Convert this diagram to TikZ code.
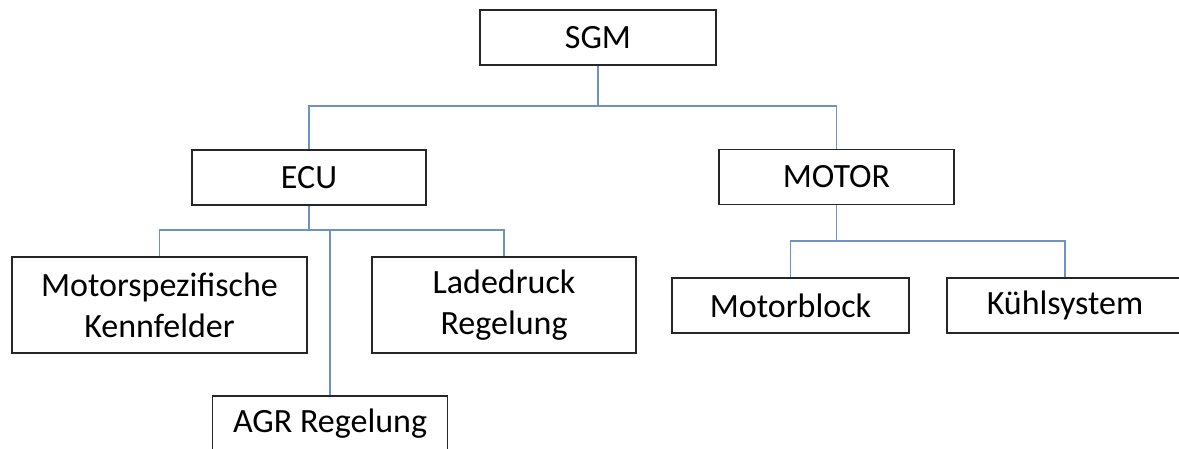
\documentclass[tikz,border=0pt]{standalone}
\usepackage{fontspec}
\setmainfont{Carlito}
\begin{document}
\begin{tikzpicture}[x=1pt,y=-1pt,
  box/.style={draw=black!85, line width=1.6pt, rectangle, inner sep=0pt,
    align=center, font=\fontsize{34}{41}\selectfont, text=black},
  link/.style={draw={rgb,255:red,110;green,146;blue,200}, line width=1.5pt}]
  \useasboundingbox (0,0) rectangle (1179,448);
  \clip (0,0) rectangle (1179,448);
  % boxes
  \node[box, minimum width=236pt, minimum height=55pt] (sgm) at (598,37.5) {SGM};
  \node[box, minimum width=234pt, minimum height=55pt] (ecu) at (309,177.5) {ECU};
  \node[box, minimum width=235pt, minimum height=55pt] (motor) at (836.5,177) {MOTOR};
  \node[box, minimum width=295pt, minimum height=96pt] (ms) at (159.5,305) {Motorspezifische\\Kennfelder};
  \node[box, minimum width=264pt, minimum height=96pt] (lr) at (504,305) {Ladedruck\\Regelung};
  \node[box, minimum width=235pt, minimum height=55pt] (agr) at (330,423.5) {AGR Regelung};
  \node[box, minimum width=237pt, minimum height=55pt] (mb) at (790.5,305.5) {Motorblock};
  \node[box, minimum width=236pt, minimum height=55pt] (ks) at (1065,305.5) {Kühlsystem};
  % bus levels
  \coordinate (b1) at (598,106);
  \coordinate (b2) at (309,230);
  \coordinate (b3) at (836.5,241);
  % connectors
  \draw[link] (sgm.south) -- (b1);
  \draw[link] (ecu.north) |- (b1) -| (motor.north);
  \draw[link] (ecu.south) -- (b2);
  \draw[link] (ms.north) |- (b2) -| (lr.north);
  \draw[link] (agr.north) -- (agr.north |- b2);
  \draw[link] (motor.south) -- (b3);
  \draw[link] (mb.north) |- (b3) -| (ks.north);
\end{tikzpicture}
\end{document}
